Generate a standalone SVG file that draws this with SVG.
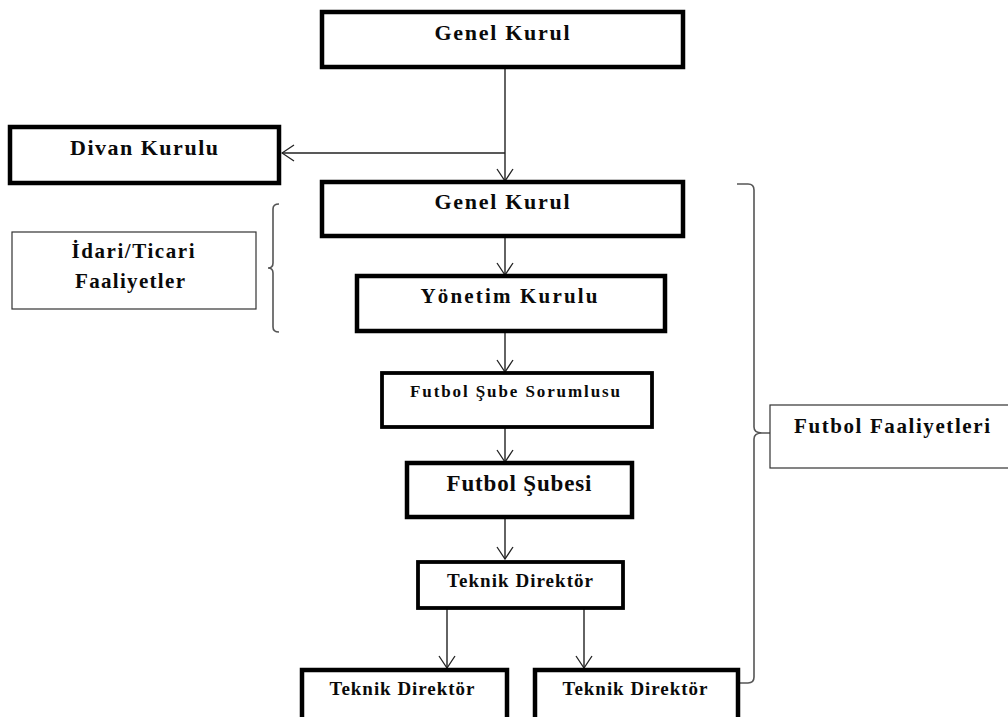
<svg xmlns="http://www.w3.org/2000/svg" width="1008" height="717" viewBox="0 0 1008 717">
<defs>
<style>
.thick{fill:#fff;stroke:#000;stroke-width:4.5}
.mid{fill:#fff;stroke:#000;stroke-width:3.8}
.thin{fill:#fff;stroke:#333;stroke-width:1.2}
.t{font-family:"Liberation Serif","Times New Roman",serif;font-weight:bold;fill:#0a0a0a;text-anchor:middle}
.c{stroke:#222;stroke-width:1.4;fill:none}
.br{stroke:#555;stroke-width:1.6;fill:none}
</style>
<marker id="arr" viewBox="0 0 14 18" refX="13" refY="9" markerWidth="14" markerHeight="18" markerUnits="userSpaceOnUse" orient="auto">
<path d="M1,1 L13,9 L1,17" fill="none" stroke="#222" stroke-width="1.3"/>
</marker>
</defs>
<rect width="1008" height="717" fill="#fff"/>
<g id="connectors">
<line class="c" x1="505" y1="67" x2="505" y2="181" marker-end="url(#arr)"/>
<line class="c" x1="505" y1="153" x2="282" y2="153" marker-end="url(#arr)"/>
<line class="c" x1="505" y1="236" x2="505" y2="275" marker-end="url(#arr)"/>
<line class="c" x1="505" y1="331" x2="505" y2="372" marker-end="url(#arr)"/>
<line class="c" x1="505" y1="417" x2="505" y2="462" marker-end="url(#arr)"/>
<line class="c" x1="505" y1="517" x2="505" y2="559" marker-end="url(#arr)"/>
<line class="c" x1="447" y1="608" x2="447" y2="668" marker-end="url(#arr)"/>
<line class="c" x1="584" y1="608" x2="584" y2="668" marker-end="url(#arr)"/>
<path class="br" d="M279,204 Q273,204 273,209 V263 Q273,268 268,268 Q273,268 273,273 V327 Q273,332 279,332"/>
<path class="br" d="M737,184 H748 Q754,184 754,190 V427 Q754,433 762,433 H770 M762,433 Q754,433 754,439 V677 Q754,683 748,683 H739"/>
</g>
<g id="genel-kurul-1"><rect class="thick" x="322" y="12" width="361" height="55"/><text class="t" x="502" y="40" font-size="22" textLength="135" lengthAdjust="spacing">Genel Kurul</text></g>
<g id="divan-kurulu"><rect class="thick" x="10" y="127" width="269" height="56"/><text class="t" x="144" y="155" font-size="22" textLength="148" lengthAdjust="spacing">Divan Kurulu</text></g>
<g id="idari-ticari"><rect class="thin" x="12" y="232" width="244" height="77"/><text class="t" x="133" y="258" font-size="21" textLength="123" lengthAdjust="spacing">İdari/Ticari</text><text class="t" x="130" y="288" font-size="21" textLength="110" lengthAdjust="spacing">Faaliyetler</text></g>
<g id="genel-kurul-2"><rect class="thick" x="322" y="182" width="361" height="54"/><text class="t" x="502" y="209" font-size="22" textLength="135" lengthAdjust="spacing">Genel Kurul</text></g>
<g id="yonetim-kurulu"><rect class="thick" x="357" y="276" width="308" height="55"/><text class="t" x="509" y="303" font-size="21" textLength="177" lengthAdjust="spacing">Yönetim Kurulu</text></g>
<g id="futbol-sube-sorumlusu"><rect class="mid" x="382" y="373" width="270" height="54"/><text class="t" x="515" y="397" font-size="17" textLength="210" lengthAdjust="spacing">Futbol Şube Sorumlusu</text></g>
<g id="futbol-subesi"><rect class="thick" x="407" y="463" width="225" height="54"/><text class="t" x="519" y="491" font-size="23" textLength="145" lengthAdjust="spacing">Futbol Şubesi</text></g>
<g id="teknik-direktor"><rect class="mid" x="418" y="562" width="205" height="46"/><text class="t" x="520" y="587" font-size="19" textLength="146" lengthAdjust="spacing">Teknik Direktör</text></g>
<g id="teknik-direktor-left"><rect class="thick" x="302" y="670" width="205" height="60"/><text class="t" x="402" y="695" font-size="19" textLength="145" lengthAdjust="spacing">Teknik Direktör</text></g>
<g id="teknik-direktor-right"><rect class="thick" x="535" y="670" width="203" height="60"/><text class="t" x="635" y="695" font-size="19" textLength="145" lengthAdjust="spacing">Teknik Direktör</text></g>
<g id="futbol-faaliyetleri"><rect class="thin" x="770" y="405" width="250" height="63"/><text class="t" x="892" y="433" font-size="21" textLength="196" lengthAdjust="spacing">Futbol Faaliyetleri</text></g>
</svg>
